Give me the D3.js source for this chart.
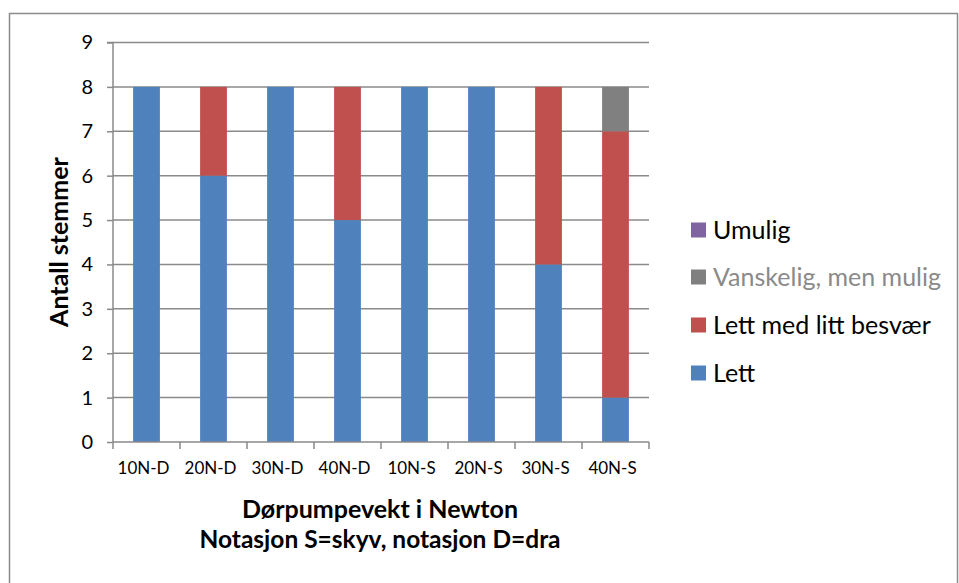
<!DOCTYPE html>
<html><head><meta charset="utf-8">
<script src="https://cdn.jsdelivr.net/npm/d3@7/dist/d3.min.js"></script>
<style>body{margin:0;background:#fff}svg{display:block}text{font-family:Lato,"Open Sans",sans-serif}</style>
</head><body><svg id="c" width="959" height="583"></svg>
<script>
const categories = ["10N-D","20N-D","30N-D","40N-D","10N-S","20N-S","30N-S","40N-S"];
const lett = [8,6,8,5,8,8,4,1];
const lettMedLittBesvaer = [0,2,0,3,0,0,4,6];
const vanskelig = [0,0,0,0,0,0,0,1];
const umulig = [0,0,0,0,0,0,0,0];
const seriesNames = ["Lett","Lett med litt besvær","Vanskelig, men mulig","Umulig"];
const seriesColors = ["#4F81BD","#C0504D","#808080","#8064A2"];
const yTicks = [0,1,2,3,4,5,6,7,8,9];

const svg = d3.select("#c");
svg.append("rect").attr("x",9.5).attr("y",13.5).attr("width",948).attr("height",600)
  .attr("fill","#fff").attr("stroke","#8c8c8c").attr("stroke-width",1.5);

const L=113, R=649, T=42.5, B=442;
const x = d3.scaleBand().domain(categories).range([L,R]).paddingInner(0.6).paddingOuter(0.3);
const xb = d3.scaleBand().domain(categories).range([L,R]);
const y = d3.scaleLinear().domain([0,9]).range([B,T]);

// gridlines
svg.append("g").selectAll("line").data(yTicks.filter(d=>d>0)).join("line")
  .attr("x1",L).attr("x2",R).attr("y1",d=>y(d)).attr("y2",d=>y(d))
  .attr("stroke","#8a8a8a").attr("stroke-width",1.5);

const rows = categories.map((c,i)=>({cat:c, "Lett":lett[i], "Lett med litt besvær":lettMedLittBesvaer[i], "Vanskelig, men mulig":vanskelig[i], "Umulig":umulig[i]}));
const stack = d3.stack().keys(seriesNames)(rows);
svg.append("g").selectAll("g").data(stack).join("g")
  .attr("fill",(d,i)=>seriesColors[i])
  .selectAll("rect").data(d=>d).join("rect")
  .attr("x",d=>x(d.data.cat)).attr("width",x.bandwidth())
  .attr("y",d=>y(d[1])).attr("height",d=>y(d[0])-y(d[1]));

// y axis
const ya = d3.axisLeft(y).tickValues(yTicks).tickSize(6).tickPadding(14).tickFormat(d3.format("d"));
const yg = svg.append("g").attr("transform",`translate(${L},0)`).call(ya);
yg.select(".domain").attr("stroke","#8a8a8a").attr("stroke-width",1.5).attr("d",`M-6,${T}H0V${B}`);
yg.selectAll(".tick line").attr("stroke","#8a8a8a").attr("stroke-width",1.5);
yg.selectAll(".tick text").attr("font-size",20).attr("fill","#000").attr("font-family","Lato");

// x axis
const xa = d3.axisBottom(xb).tickSize(0).tickPadding(20);
const xg = svg.append("g").attr("transform",`translate(0,${B})`).call(xa);
xg.select(".domain").attr("stroke","#8a8a8a").attr("stroke-width",1.5).attr("d",`M${L},0H${R}`);
xg.selectAll(".tick text").attr("font-size",17).attr("fill","#000").attr("font-family","Lato").attr("dx",-3);
svg.append("g").selectAll("line").data(d3.range(categories.length+1)).join("line")
  .attr("x1",i=>L+i*xb.step()).attr("x2",i=>L+i*xb.step()).attr("y1",B).attr("y2",B+7)
  .attr("stroke","#8a8a8a").attr("stroke-width",1.5);

// titles
svg.append("text").attr("transform","translate(68,242) rotate(-90)").attr("text-anchor","middle")
  .attr("font-weight","bold").attr("font-size",25).text("Antall stemmer");
svg.append("text").attr("x",380).attr("y",518).attr("text-anchor","middle")
  .attr("font-weight","bold").attr("font-size",25).text("Dørpumpevekt i Newton");
svg.append("text").attr("x",380).attr("y",548).attr("text-anchor","middle")
  .attr("font-weight","bold").attr("font-size",24.5).text("Notasjon S=skyv, notasjon D=dra");

// legend (reverse order)
const legY = [230,277,325,373];
const legOrder = [3,2,1,0];
const lg = svg.append("g").selectAll("g").data(legOrder).join("g")
  .attr("transform",(d,i)=>`translate(691,${legY[i]})`);
lg.append("rect").attr("x",0).attr("y",-7.5).attr("width",15).attr("height",15).attr("fill",d=>seriesColors[d]);
lg.append("text").attr("x",22).attr("y",9).attr("font-size",25)
  .attr("fill",d=>d===2?"#8a8a8a":"#000").text(d=>seriesNames[d]);
</script></body></html>
